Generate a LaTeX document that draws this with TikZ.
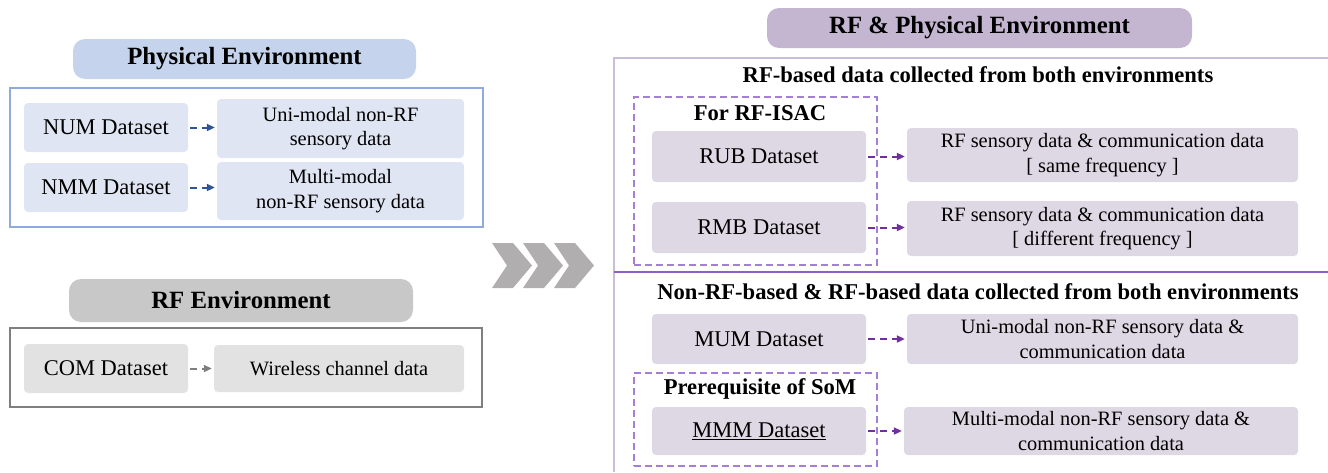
\documentclass[tikz,border=0pt]{standalone}
\usepackage{fontspec}
\setmainfont{Liberation Serif}
\usetikzlibrary{arrows.meta}

\definecolor{physfill}{HTML}{C5D4EC}
\definecolor{physline}{HTML}{8FAADC}
\definecolor{physbox}{HTML}{DFE5F2}
\definecolor{physarrow}{HTML}{2F5597}
\definecolor{rffill}{HTML}{C8C8C8}
\definecolor{rfline}{HTML}{7F7F7F}
\definecolor{rfbox}{HTML}{E2E2E2}
\definecolor{bothfill}{HTML}{C4B6D1}
\definecolor{bothline}{HTML}{C9BDDA}
\definecolor{bothbox}{HTML}{DDD8E4}
\definecolor{bothdiv}{HTML}{8E5FC7}
\definecolor{bothdash}{HTML}{A57ED6}
\definecolor{botharrow}{HTML}{7030A0}
\definecolor{chevron}{HTML}{B0AEAE}

\begin{document}
\begin{tikzpicture}[
  x=1pt, y=-1pt,
  pill/.style={
    rounded corners=12pt,
    inner sep=0pt,
    font=\fontsize{24.8}{28}\selectfont\bfseries
  },
  frame/.style={draw, line width=2pt, inner sep=0pt},
  dbox/.style={
    rounded corners=4pt,
    inner sep=0pt,
    align=center,
    font=\fontsize{22.5}{26}\selectfont
  },
  dtext/.style={dbox, font=\fontsize{20.4}{24.5}\selectfont},
  head/.style={font=\fontsize{22.6}{26}\selectfont\bfseries, inner sep=0pt},
  grp/.style={draw=bothdash, dashed, dash pattern=on 7pt off 4pt, line width=2pt, inner sep=0pt},
  link/.style={-{Triangle[length=8pt,width=7pt]}, line width=2pt, dash pattern=on 7pt off 5pt, shorten <=2pt, shorten >=2pt}
]
\useasboundingbox (0,0) rectangle (1328,472);

% Physical environment
\node[pill, fill=physfill, minimum width=343pt, minimum height=40pt] (phys) at (244.5,59) {Physical Environment};
\node[frame, draw=physline, minimum width=473pt, minimum height=139pt] (physframe) at (246.5,157.5) {};
\node[dbox, fill=physbox, minimum width=164pt, minimum height=49pt] (num) at (106,127.5) {NUM Dataset};
\node[dtext, fill=physbox, minimum width=247pt, minimum height=59pt] (numdata) at (340.5,128.5) {Uni-modal non-RF\\sensory data};
\node[dbox, fill=physbox, minimum width=164pt, minimum height=49pt] (nmm) at (106,187.5) {NMM Dataset};
\node[dtext, fill=physbox, minimum width=247pt, minimum height=58pt] (nmmdata) at (340.5,191) {Multi-modal\\non-RF sensory data};
\draw[link, physarrow] (num) -- (num -| numdata.west);
\draw[link, physarrow] (nmm) -- (nmm -| nmmdata.west);

% RF environment
\node[pill, fill=rffill, minimum width=344pt, minimum height=43pt] (rf) at (241,300.5) {RF Environment};
\node[frame, draw=rfline, minimum width=472pt, minimum height=79pt] (rfframe) at (246,367.5) {};
\node[dbox, fill=rfbox, minimum width=164pt, minimum height=49pt] (com) at (106,368.5) {COM Dataset};
\node[dtext, fill=rfbox, minimum width=250pt, minimum height=47pt] (comdata) at (339,368.5) {Wireless channel data};
\draw[link, rfline] (com) -- (com -| comdata.west);

% Chevrons
\foreach \cx in {492,523,554}
  \fill[chevron] (\cx,243) -- (\cx+21,243) -- (\cx+40,265.5) -- (\cx+21,288) -- (\cx,288) -- (\cx+15,265.5) -- cycle;

% RF & physical environment
\node[pill, fill=bothfill, minimum width=425pt, minimum height=40pt] (both) at (979.5,28) {RF \& Physical Environment};
\draw[bothline, line width=2pt] (1328,58) -| (614,472);
\draw[bothdiv, line width=2pt] (614,272) -- (1328,272);

\node[head] (rfhead) at (978,75) {RF-based data collected from both environments};
\node[grp, minimum width=243pt, minimum height=168pt] (isac) at (755.5,181) {};
\node[head] (isachead) at (760,113) {For RF-ISAC};
\node[dbox, fill=bothbox, minimum width=214pt, minimum height=51pt] (rub) at (759,156.5) {RUB Dataset};
\node[dtext, fill=bothbox, minimum width=391pt, minimum height=54pt] (rubdata) at (1102.5,155) {RF sensory data \& communication data\\{}[ same frequency ]};
\node[dbox, fill=bothbox, minimum width=214pt, minimum height=51pt] (rmb) at (759,227.5) {RMB Dataset};
\node[dtext, fill=bothbox, minimum width=391pt, minimum height=55pt] (rmbdata) at (1102.5,228.5) {RF sensory data \& communication data\\{}[ different frequency ]};
\draw[link, botharrow] (rub) -- (rub -| rubdata.west);
\draw[link, botharrow] (rmb) -- (rmb -| rmbdata.west);

\node[head] (mixhead) at (978,292) {Non-RF-based \& RF-based data collected from both environments};
\node[dbox, fill=bothbox, minimum width=214pt, minimum height=50pt] (mum) at (759,339) {MUM Dataset};
\node[dtext, fill=bothbox, minimum width=391pt, minimum height=50pt] (mumdata) at (1102.5,339) {Uni-modal non-RF sensory data \&\\communication data};
\node[grp, minimum width=243pt, minimum height=93pt] (som) at (755.5,419.5) {};
\node[head] (somhead) at (760,389) {Prerequisite of SoM};
\node[dbox, fill=bothbox, minimum width=214pt, minimum height=48pt] (mmm) at (759,431) {\underline{MMM Dataset}};
\node[dtext, fill=bothbox, minimum width=394pt, minimum height=48pt] (mmmdata) at (1101,431) {Multi-modal non-RF sensory data \&\\communication data};
\draw[link, botharrow] (mum) -- (mum -| mumdata.west);
\draw[link, botharrow] (mmm) -- (mmm -| mmmdata.west);

\end{tikzpicture}
\end{document}
